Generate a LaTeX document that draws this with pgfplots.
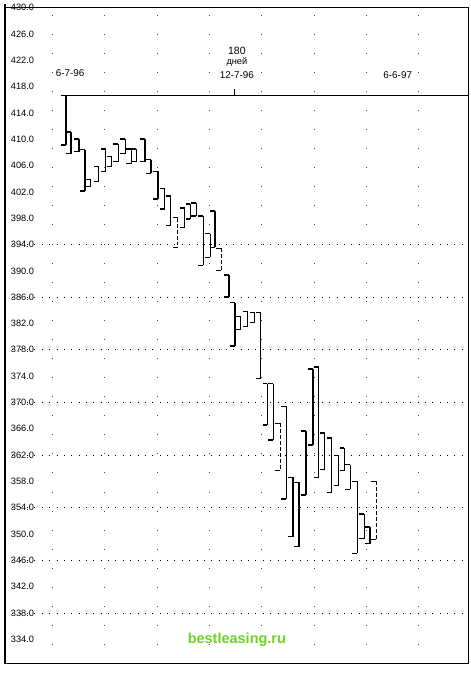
\documentclass[border=0pt]{standalone}
\usepackage{fontspec}
\setmainfont{Liberation Sans}
\usepackage{pgfplots}
\usepackage{pgfplotstable}
\pgfplotsset{compat=1.18}
\definecolor{wm}{RGB}{110,210,40}

% x = position across the chart (pixel units), hi/lo = price range of each bracket
\pgfplotstableread{
x hi lo
67 416.65 409.15
72 411.10 407.80
80 410.05 408.10
86 408.40 402.10
92 403.90 402.85
100 405.85 403.60
107 408.55 405.10
113 407.35 405.85
120 409.30 406.60
127 410.05 407.80
133 408.55 406.30
138 408.55 406.60
147 410.05 406.60
153 406.90 404.80
160 405.10 400.90
167 402.55 399.40
173 401.35 396.85
187 399.55 396.55
193 400.15 397.90
199 400.30 398.35
206 398.35 390.85
213 395.65 392.05
218 399.10 393.55
232 389.35 386.05
238 385.15 378.55
244 383.05 381.10
251 383.80 381.55
258 383.65 382.15
264 383.65 373.60
271 372.85 366.55
277 372.85 364.30
290 369.40 355.30
297 358.60 349.60
303 357.85 348.10
310 365.65 355.90
317 375.10 363.55
323 375.40 358.60
329 365.35 359.80
336 364.60 356.35
343 361.90 357.40
349 363.10 359.65
355 360.55 356.80
362 358.00 347.05
369 353.05 349.30
375 351.10 348.55
}\bars
\pgfplotstableread{
x hi lo
180 398.05 393.55
224 393.40 390.10
284 366.85 359.65
381 358.00 349.15
}\dbars

\begin{document}
\begin{tikzpicture}
\begin{axis}[
  scale only axis,
  width=352.5pt, height=498.75pt,
  xmin=5, xmax=475,
  ymin=330.25, ymax=430,
  clip=false,
  axis line style={line width=0.8pt},
  ytick={334,338,...,430},
  yticklabel style={anchor=west, xshift=1pt, font=\fontsize{7}{8}\selectfont},
  /pgf/number format/.cd, fixed, fixed zerofill, precision=1, assume math mode=true,
  /pgfplots/.cd,
  major tick length=0pt,
  xtick={53,106,159,212,265,318,371,424},
  xticklabels={},
  xmajorgrids,
  x grid style={black!70, line width=0.45pt, dash pattern=on 0.5pt off 14pt},
  extra y ticks={338,346,354,362,370,378,386,394},
  extra y tick labels={},
  extra y tick style={grid=major},
  y grid style={black, line width=0.5pt, dash pattern=on 0.6pt off 5pt},
]
% invisible frame for picture extent
\path (axis cs:0,430.6) rectangle (axis cs:477,329.65);
% thicker left axis
\draw[line width=1.4pt] (axis cs:5,430.6) -- (axis cs:5,330.25);
% reference line
\addplot[black, line width=0.8pt] coordinates {(62,416.65) (475,416.65)};
\addplot[black, line width=0.6pt] coordinates {(238,416.65) (238,417.7)};
% solid brackets: vertical, top tick, bottom tick
\addplot[draw=none, error bars/.cd, y dir=minus, y explicit, error mark=none,
  error bar style={draw=black, solid, line width=1pt}]
  table[x=x, y=hi, y error expr=\thisrow{hi}-\thisrow{lo}] {\bars};
\addplot[draw=none, error bars/.cd, x dir=minus, x fixed=5, error mark=none,
  error bar style={draw=black, solid, line width=1.1pt}]
  table[x=x, y=hi] {\bars};
\addplot[draw=none, error bars/.cd, x dir=minus, x fixed=5, error mark=none,
  error bar style={draw=black, solid, line width=1.1pt}]
  table[x=x, y=lo] {\bars};
% dashed brackets
\addplot[draw=none, error bars/.cd, y dir=minus, y explicit, error mark=none,
  error bar style={draw=black, dash pattern=on 3pt off 1.5pt, line width=0.8pt}]
  table[x=x, y=hi, y error expr=\thisrow{hi}-\thisrow{lo}] {\dbars};
\addplot[draw=none, error bars/.cd, x dir=minus, x fixed=5, error mark=none,
  error bar style={draw=black, solid, line width=0.8pt}]
  table[x=x, y=hi] {\dbars};
\addplot[draw=none, error bars/.cd, x dir=minus, x fixed=5, error mark=none,
  error bar style={draw=black, solid, line width=0.8pt}]
  table[x=x, y=lo] {\dbars};
% labels
\node[font=\fontsize{7.5}{8}\selectfont] at (axis cs:71,420.1) {6-7-96};
\node[font=\fontsize{8}{9}\selectfont] at (axis cs:240,423.4) {180};
\node[font=\fontsize{7}{8}\selectfont] at (axis cs:240,421.7) {дней};
\node[font=\fontsize{7.5}{8}\selectfont] at (axis cs:240,419.7) {12-7-96};
\node[font=\fontsize{7.5}{8}\selectfont] at (axis cs:403,419.7) {6-6-97};
\node[font=\bfseries\fontsize{11}{12}\selectfont, text=wm] at (axis cs:240,333.9) {bestleasing.ru};
\end{axis}
\end{tikzpicture}
\end{document}
